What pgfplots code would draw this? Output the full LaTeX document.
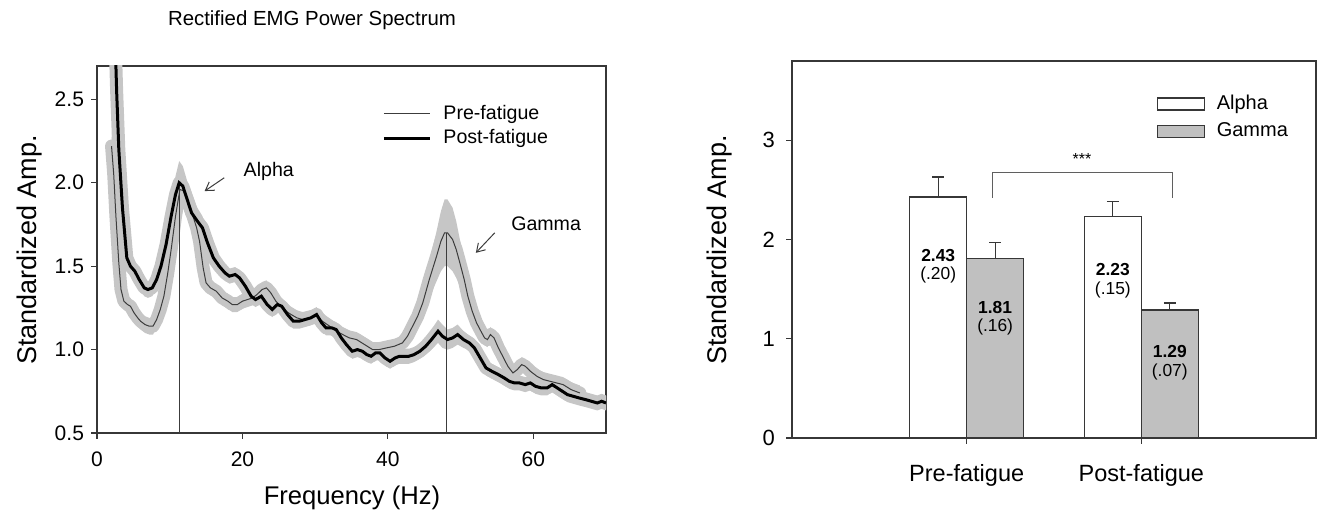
\documentclass[border=0pt]{standalone}
\usepackage{fontspec}
\setmainfont{Liberation Sans}
\usepackage{pgfplots}
\pgfplotsset{compat=1.18}
\usepackage{pgfplotstable}
\usepgfplotslibrary{fillbetween}
\usetikzlibrary{arrows.meta}

\definecolor{bandgray}{RGB}{198,198,198}
\definecolor{axgray}{RGB}{55,55,55}
\definecolor{bargray}{RGB}{192,192,192}
\definecolor{thingray}{RGB}{60,60,60}

% pre-fatigue spectrum: frequency, mean, sem
\pgfplotstableread{
f y e
2.0 2.22 0.07
2.3 2.05 0.07
2.6 1.80 0.07
3.0 1.52 0.06
3.3 1.36 0.055
3.7 1.29 0.05
4.2 1.27 0.05
4.6 1.26 0.05
5.1 1.22 0.05
5.6 1.19 0.05
6.0 1.17 0.05
6.6 1.15 0.05
7.2 1.14 0.05
7.7 1.14 0.05
8.2 1.18 0.05
8.7 1.24 0.05
9.2 1.32 0.06
9.7 1.45 0.07
10.2 1.60 0.08
10.8 1.80 0.09
11.4 1.96 0.10
12.0 1.95 0.10
12.6 1.88 0.09
13.2 1.80 0.08
13.7 1.73 0.07
14.1 1.65 0.06
14.6 1.49 0.05
15.0 1.40 0.05
15.6 1.37 0.045
16.4 1.35 0.045
17.2 1.31 0.045
18.0 1.29 0.045
18.6 1.27 0.045
19.3 1.27 0.045
20.0 1.29 0.045
20.7 1.30 0.045
21.4 1.31 0.045
22.0 1.33 0.045
22.7 1.36 0.045
23.3 1.37 0.045
23.9 1.34 0.045
24.6 1.29 0.045
25.3 1.26 0.045
26.0 1.23 0.045
26.7 1.21 0.045
27.5 1.19 0.045
28.3 1.18 0.045
29.2 1.19 0.045
30.2 1.20 0.045
31.0 1.17 0.045
32.0 1.14 0.045
32.9 1.11 0.045
33.8 1.09 0.045
34.7 1.07 0.045
35.7 1.06 0.045
36.8 1.03 0.045
37.9 1.00 0.045
38.8 1.00 0.045
39.8 1.01 0.045
40.9 1.02 0.045
42.0 1.04 0.045
42.7 1.08 0.05
43.4 1.14 0.05
44.1 1.20 0.06
44.8 1.28 0.08
45.7 1.42 0.11
46.7 1.56 0.15
47.3 1.65 0.18
47.8 1.70 0.20
48.2 1.70 0.20
48.9 1.66 0.19
49.4 1.60 0.17
49.9 1.52 0.14
50.5 1.42 0.11
51.0 1.32 0.09
51.6 1.23 0.07
52.2 1.16 0.06
52.8 1.11 0.05
53.3 1.07 0.045
53.7 1.06 0.045
54.1 1.09 0.045
54.6 1.07 0.045
55.2 1.01 0.045
55.8 0.96 0.045
56.5 0.90 0.045
57.2 0.86 0.045
57.8 0.88 0.045
58.4 0.91 0.045
58.9 0.90 0.045
59.6 0.87 0.045
60.5 0.84 0.045
61.4 0.82 0.045
62.3 0.81 0.045
63.2 0.80 0.045
64.1 0.79 0.045
65.2 0.76 0.045
66.4 0.74 0.045
}\pre

% post-fatigue spectrum: frequency, mean, sem
\pgfplotstableread{
f y e
2.4 3.00 0.08
2.7 2.55 0.08
3.0 2.20 0.08
3.5 1.85 0.07
4.1 1.55 0.06
4.6 1.50 0.05
5.2 1.47 0.05
5.8 1.42 0.05
6.5 1.37 0.05
7.0 1.36 0.05
7.6 1.37 0.05
8.2 1.42 0.05
8.8 1.50 0.06
9.5 1.63 0.07
10.2 1.80 0.09
10.8 1.93 0.11
11.3 2.00 0.13
11.8 1.98 0.12
12.4 1.90 0.11
13.0 1.82 0.10
13.8 1.77 0.08
14.5 1.73 0.07
15.2 1.64 0.06
16.0 1.55 0.05
16.8 1.50 0.05
17.6 1.46 0.045
18.2 1.44 0.045
19.0 1.45 0.045
19.6 1.43 0.045
20.4 1.38 0.045
21.2 1.32 0.045
21.8 1.30 0.045
22.6 1.32 0.045
23.4 1.27 0.045
24.1 1.24 0.045
24.8 1.27 0.045
25.4 1.26 0.045
26.2 1.21 0.045
27.0 1.17 0.045
27.8 1.17 0.045
28.6 1.18 0.045
29.4 1.19 0.045
30.2 1.21 0.045
30.9 1.16 0.045
31.5 1.13 0.045
32.3 1.13 0.045
32.9 1.12 0.045
33.6 1.07 0.045
34.3 1.03 0.045
35.1 0.99 0.045
35.8 1.00 0.045
36.5 0.99 0.045
37.1 0.97 0.045
37.7 0.96 0.045
38.3 0.98 0.045
38.9 0.98 0.045
39.6 0.95 0.045
40.3 0.93 0.045
41.0 0.95 0.045
41.6 0.96 0.045
42.2 0.96 0.045
42.9 0.96 0.045
43.6 0.97 0.045
44.4 0.99 0.045
45.2 1.02 0.05
46.0 1.06 0.06
46.9 1.11 0.07
47.5 1.08 0.07
48.2 1.06 0.06
48.9 1.07 0.06
49.6 1.09 0.06
50.4 1.06 0.05
51.2 1.04 0.045
51.9 1.01 0.045
52.7 0.95 0.045
53.5 0.89 0.045
54.3 0.87 0.045
55.2 0.85 0.045
56.0 0.83 0.045
56.7 0.81 0.045
57.4 0.80 0.045
58.1 0.80 0.045
58.9 0.79 0.045
59.6 0.80 0.045
60.3 0.78 0.045
61.1 0.77 0.045
61.9 0.77 0.045
62.6 0.79 0.045
63.3 0.77 0.045
64.0 0.75 0.045
64.7 0.73 0.045
65.5 0.72 0.045
66.3 0.71 0.045
67.2 0.70 0.045
68.0 0.69 0.045
68.8 0.68 0.045
69.4 0.69 0.045
70.0 0.68 0.045
}\post

\pgfplotsset{
  emgstyle/.style={
    scale only axis,
    axis line style={axgray, line width=0.6pt},
    tick style={axgray, line width=0.6pt},
    major tick length=3pt,
    tick align=outside,
    xtick pos=left, ytick pos=left,
    /pgf/number format/assume math mode=true,
  },
}

\begin{document}
\begin{tikzpicture}

% ---- left: spectrum ----
\begin{axis}[
  emgstyle,
  at={(48.5pt,42.5pt)}, anchor=south west,
  width=254.5pt, height=183.5pt,
  xmin=0, xmax=70, ymin=0.5, ymax=2.7,
  xtick={0,20,40,60},
  ytick={0.5,1.0,1.5,2.0,2.5},
  yticklabel style={/pgf/number format/.cd, fixed, fixed zerofill, precision=1},
  tick label style={font=\fontsize{10.5}{12}\selectfont},
  xticklabel style={yshift=-3pt},
  legend style={draw=none, fill=none, at={(0.560,0.905)}, anchor=north west,
    font=\fontsize{9.8}{11}\selectfont, row sep=-0.5pt, inner sep=0pt},
  legend cell align=left,
  legend image code/.code={\draw[#1] (0pt,0pt) -- (23pt,0pt); \path (27pt,0pt);},
]
% sem bands
\addplot[name path=preU, draw=none, forget plot] table[x=f, y expr=\thisrow{y}+\thisrow{e}] {\pre};
\addplot[name path=preL, draw=none, forget plot] table[x=f, y expr=\thisrow{y}-\thisrow{e}] {\pre};
\addplot[bandgray, forget plot] fill between[of=preU and preL];
\addplot[name path=postU, draw=none, forget plot] table[x=f, y expr=\thisrow{y}+\thisrow{e}] {\post};
\addplot[name path=postL, draw=none, forget plot] table[x=f, y expr=\thisrow{y}-\thisrow{e}] {\post};
\addplot[bandgray, forget plot] fill between[of=postU and postL];
\addplot[bandgray, line width=6.5pt, line join=round, line cap=round, forget plot] table[x=f, y=y] {\pre};
\addplot[bandgray, line width=6.5pt, line join=round, line cap=round, forget plot] table[x=f, y=y] {\post};
% peak markers
\addplot[thingray, line width=0.5pt, forget plot] coordinates {(11.3,0.5) (11.3,2.0)};
\addplot[thingray, line width=0.5pt, forget plot] coordinates {(48.0,0.5) (48.0,1.70)};
% means
\addplot[thingray, line width=0.5pt] table[x=f, y=y] {\pre};
\addlegendentry{Pre-fatigue}
\addplot[black, line width=1.5pt] table[x=f, y=y] {\post};
\addlegendentry{Post-fatigue}
% annotations
\draw[thingray, line width=0.5pt, -{Straight Barb[length=4pt, width=5pt]}] (axis cs:17.5,2.03) -- (axis cs:14.8,1.95);
\node[anchor=west, font=\fontsize{9.8}{11}\selectfont] at (axis cs:19.2,2.07) {Alpha};
\draw[thingray, line width=0.5pt, -{Straight Barb[length=4pt, width=5pt]}] (axis cs:54.7,1.70) -- (axis cs:52.1,1.58);
\node[anchor=west, font=\fontsize{9.8}{11}\selectfont] at (axis cs:56.0,1.755) {Gamma};
\end{axis}

\node[font=\fontsize{10.2}{12}\selectfont] at (156pt,249pt) {Rectified EMG Power Spectrum};
\node[font=\fontsize{13.5}{15}\selectfont, rotate=90] at (15pt,134pt) {Standardized Amp.};
\node[font=\fontsize{12.8}{15}\selectfont] at (176pt,10pt) {Frequency (Hz)};

% ---- right: band amplitudes ----
\begin{axis}[
  emgstyle,
  at={(396pt,40pt)}, anchor=south west,
  width=262pt, height=188.5pt,
  xmin=0, xmax=3, ymin=0, ymax=3.8,
  xtick={1,2}, xticklabels={Pre-fatigue,Post-fatigue},
  ytick={0,1,2,3},
  yticklabel style={font=\fontsize{11}{13}\selectfont, xshift=-2pt},
  xticklabel style={font=\fontsize{11.75}{14}\selectfont, yshift=-6.5pt},
  legend style={draw=none, fill=none, at={(0.695,0.921)}, anchor=north west,
    font=\fontsize{10}{12}\selectfont, row sep=1pt, inner sep=0pt},
  legend cell align=left,
  legend image code/.code={\draw[#1] (0pt,-3pt) rectangle (23.5pt,3pt); \path (27.5pt,0pt);},
]
\addplot[ybar, bar width=0.326, bar shift=0pt, fill=white, draw=axgray, line width=0.6pt,
  error bars/.cd, y dir=plus, y explicit,
  error bar style={axgray, line width=0.6pt},
  error mark options={axgray, line width=0.6pt, mark size=3pt, rotate=90}]
  coordinates {(0.837,2.43) +- (0,0.20) (1.837,2.23) +- (0,0.15)};
\addlegendentry{Alpha}
\addplot[ybar, bar width=0.326, bar shift=0pt, fill=bargray, draw=axgray, line width=0.6pt,
  error bars/.cd, y dir=plus, y explicit,
  error bar style={axgray, line width=0.6pt},
  error mark options={axgray, line width=0.6pt, mark size=3pt, rotate=90}]
  coordinates {(1.163,1.81) +- (0,0.16) (2.163,1.29) +- (0,0.07)};
\addlegendentry{Gamma}
% significance bracket
\draw[axgray!80, line width=0.5pt] (axis cs:1.149,2.42) -- (axis cs:1.149,2.68) -- (axis cs:2.18,2.68) -- (axis cs:2.18,2.42);
\node[font=\fontsize{8}{9}\selectfont] at (axis cs:1.66,2.81) {***};
% value labels
\begin{scope}[every node/.style={font=\fontsize{8.7}{10}\selectfont}]
\node[font=\fontsize{8.7}{10}\selectfont\bfseries] at (axis cs:0.837,1.84) {2.43};
\node at (axis cs:0.837,1.64) {(.20)};
\node[font=\fontsize{8.7}{10}\selectfont\bfseries] at (axis cs:1.163,1.32) {1.81};
\node at (axis cs:1.163,1.12) {(.16)};
\node[font=\fontsize{8.7}{10}\selectfont\bfseries] at (axis cs:1.837,1.70) {2.23};
\node at (axis cs:1.837,1.49) {(.15)};
\node[font=\fontsize{8.7}{10}\selectfont\bfseries] at (axis cs:2.163,0.87) {1.29};
\node at (axis cs:2.163,0.67) {(.07)};
\end{scope}
\end{axis}

\node[font=\fontsize{13.5}{15}\selectfont, rotate=90] at (360pt,134pt) {Standardized Amp.};

\pgfresetboundingbox
\path[use as bounding box] (0,0) rectangle (658.5pt,259pt);
\end{tikzpicture}
\end{document}
